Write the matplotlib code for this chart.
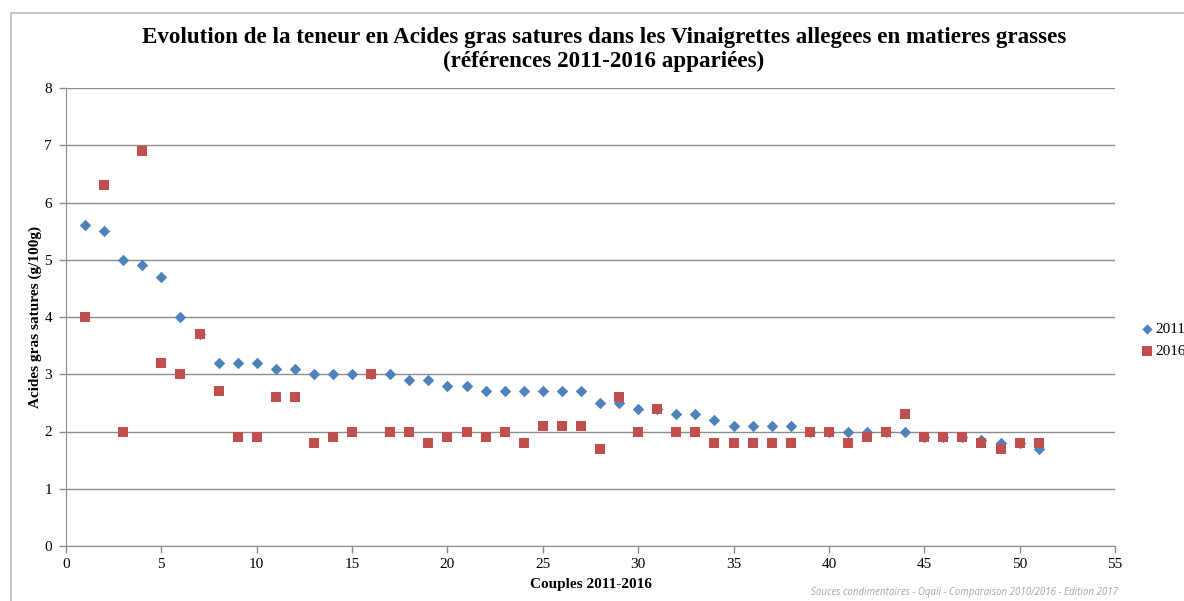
import numpy as np
import matplotlib.pyplot as plt
from matplotlib.patches import Rectangle

# couples 2011-2016, sorted by 2011 value
couples = list(range(1, 52))
ags_2011 = [5.6, 5.5, 5.0, 4.9, 4.7, 4.0, 3.7, 3.2, 3.2, 3.2,
            3.1, 3.1, 3.0, 3.0, 3.0, 3.0, 3.0, 2.9, 2.9, 2.8,
            2.8, 2.7, 2.7, 2.7, 2.7, 2.7, 2.7, 2.5, 2.5, 2.4,
            2.4, 2.3, 2.3, 2.2, 2.1, 2.1, 2.1, 2.1, 2.0, 2.0,
            2.0, 2.0, 2.0, 2.0, 1.9, 1.9, 1.9, 1.85, 1.8, 1.8,
            1.7]
ags_2016 = [4.0, 6.3, 2.0, 6.9, 3.2, 3.0, 3.7, 2.7, 1.9, 1.9,
            2.6, 2.6, 1.8, 1.9, 2.0, 3.0, 2.0, 2.0, 1.8, 1.9,
            2.0, 1.9, 2.0, 1.8, 2.1, 2.1, 2.1, 1.7, 2.6, 2.0,
            2.4, 2.0, 2.0, 1.8, 1.8, 1.8, 1.8, 1.8, 2.0, 2.0,
            1.8, 1.9, 2.0, 2.3, 1.9, 1.9, 1.9, 1.8, 1.7, 1.8,
            1.8]

blue = '#4f81bd'
red = '#c0504d'
grid_c = '#8c8c8c'
serif = ['Liberation Serif', 'DejaVu Serif']

W, H = 1184, 601
fig = plt.figure(figsize=(W / 100, H / 100), dpi=100)

# outer chart frame (cut by the image edges)
fig.patches.append(Rectangle((11 / W, -0.05), 1.2, 1 - 13.5 / H + 0.05,
                             transform=fig.transFigure, fill=False,
                             edgecolor='#c8c8c8', linewidth=1.5))

ax = fig.add_axes([66 / W, 1 - 546 / H, (1115 - 66) / W, (546 - 88) / H])
ax.scatter(couples, ags_2011, marker='D', s=34, color=blue, label='2011',
           zorder=3, linewidths=0)
ax.scatter(couples, ags_2016, marker='s', s=60, color=red, label='2016',
           zorder=4, linewidths=0)

ax.set_xlim(0, 55)
ax.set_ylim(0, 8)
ax.set_xticks(np.arange(0, 56, 5))
ax.set_yticks(np.arange(0, 9, 1))
ax.yaxis.grid(True, color=grid_c, linewidth=1)
ax.set_axisbelow(True)
for s in ['top', 'right']:
    ax.spines[s].set_visible(False)
for s in ['left', 'bottom']:
    ax.spines[s].set_color(grid_c)
ax.tick_params(axis='both', colors=grid_c, length=5, width=1,
               labelcolor='black', labelsize=11)
for lab in ax.get_xticklabels() + ax.get_yticklabels():
    lab.set_family(serif)
ax.tick_params(axis='y', pad=5)

ax.set_xlabel('Couples 2011-2016', family=serif, fontweight='bold',
              fontsize=11, labelpad=5)
ax.set_ylabel('Acides gras satures (g/100g)', family=serif,
              fontweight='bold', fontsize=11, labelpad=2)

fig.text(604 / W, 1 - 37 / H,
         'Evolution de la teneur en Acides gras satures dans les '
         'Vinaigrettes allegees en matieres grasses',
         ha='center', va='center', family=serif, fontweight='bold',
         fontsize=16.6)
fig.text(604 / W, 1 - 61 / H, '(références 2011-2016 appariées)',
         ha='center', va='center', family=serif, fontweight='bold',
         fontsize=16.6)

fig.legend(loc='center left', bbox_to_anchor=(1133 / W, 1 - 340 / H),
           frameon=False, handletextpad=0.05, labelspacing=0.55,
           borderaxespad=0, handlelength=1.0, markerscale=0.9,
           prop={'family': serif, 'size': 11})

fig.text(1118 / W, 1 - 593 / H,
         'Sauces condimentaires - Oqali - Comparaison 2010/2016 - Edition 2017',
         ha='right', va='center', style='italic', color='#a6a6a6',
         fontsize=7, family=['Open Sans', 'DejaVu Sans'])

fig.savefig('out.png', dpi=100)
